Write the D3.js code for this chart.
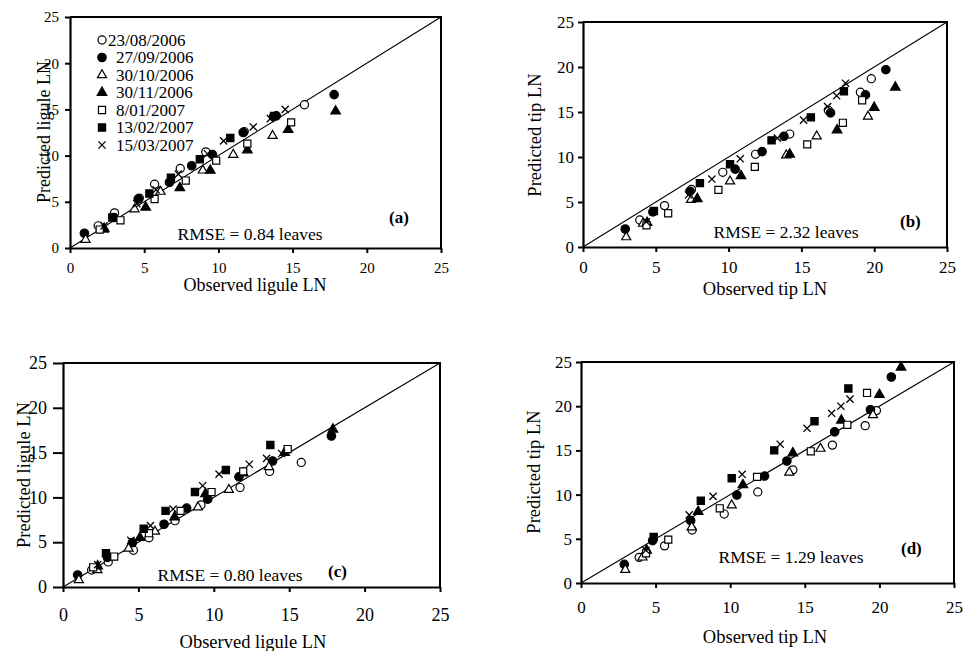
<!DOCTYPE html>
<html>
<head>
<meta charset="utf-8">
<script src="https://cdn.jsdelivr.net/npm/d3@7"></script>
<style>
  body { margin: 0; background: #fff; }
  text { font-family: "Liberation Serif", "Times New Roman", serif; fill: #000; }
</style>
</head>
<body>
<script>
var width = 963, height = 651;

// legend / series names, in drawing order
var dates = ["23/08/2006", "27/09/2006", "30/10/2006", "30/11/2006", "8/01/2007", "13/02/2007", "15/03/2007"];
var ticks = [0, 5, 10, 15, 20, 25];

// observed ligule leaf number, one list per date (panels a and c)
var obsLigule = [
  [1.9, 3.0, 4.67, 5.7, 7.43, 9.15, 11.74, 13.7, 15.8],
  [0.97, 2.95, 4.6, 6.7, 8.2, 9.6, 11.67, 13.9, 17.8],
  [1.05, 2.28, 4.35, 6.1, 8.95, 11.0, 13.65],
  [2.3, 5.1, 7.4, 9.45, 11.95, 14.7, 17.9],
  [2.0, 3.4, 5.7, 7.8, 9.85, 11.95, 14.9],
  [2.85, 5.35, 6.8, 8.75, 10.8, 13.75],
  [2.3, 4.5, 5.8, 7.3, 9.26, 10.35, 12.35, 13.5, 14.5]
];
// predicted ligule LN, panel (a)
var predLiguleA = [
  [2.4, 3.8, 5.4, 6.9, 8.6, 10.4, 12.6, 14.2, 15.5],
  [1.6, 3.3, 5.3, 7.1, 8.9, 10.1, 12.5, 14.3, 16.6],
  [0.9, 2.0, 4.2, 6.1, 8.4, 10.1, 12.15],
  [2.1, 4.4, 6.5, 8.4, 10.6, 12.8, 14.8],
  [2.0, 3.0, 5.3, 7.3, 9.45, 11.3, 13.6],
  [3.3, 5.9, 7.6, 9.6, 11.9, 14.3],
  [2.4, 4.8, 6.3, 8.0, 10.2, 11.6, 13.1, 14.0, 15.0]
];
// predicted ligule LN, panel (c)
var predLiguleC = [
  [1.9, 2.8, 4.1, 5.5, 7.4, 9.15, 11.1, 12.9, 13.9],
  [1.34, 3.3, 4.95, 7.0, 8.8, 9.8, 12.3, 14.06, 16.85],
  [0.78, 1.9, 4.3, 6.2, 8.9, 10.85, 13.4],
  [2.34, 5.5, 7.8, 10.4, 12.7, 15.0, 17.6],
  [2.2, 3.4, 6.0, 8.5, 10.6, 12.9, 15.4],
  [3.76, 6.5, 8.5, 10.6, 13.05, 15.85],
  [2.5, 5.2, 6.85, 8.7, 11.3, 12.6, 13.7, 14.35, 14.9]
];
// observed tip leaf number (panels b and d)
var obsTip = [
  [3.9, 5.6, 7.45, 9.6, 11.85, 14.2, 16.85, 19.05, 19.8],
  [2.9, 4.8, 7.35, 10.45, 12.3, 13.8, 17.0, 19.4, 20.8],
  [2.97, 4.12, 7.42, 10.1, 13.96, 16.05, 19.57],
  [4.4, 7.85, 10.85, 14.2, 17.45, 20.0, 21.45],
  [4.36, 5.85, 9.3, 11.8, 15.4, 17.85, 19.17],
  [4.87, 8.03, 10.1, 12.95, 15.65, 17.92],
  [4.35, 7.25, 8.85, 10.8, 13.35, 15.15, 16.8, 17.42, 18.03]
];
// predicted tip LN, panel (b)
var predTipB = [
  [3.0, 4.6, 6.4, 8.3, 10.3, 12.55, 15.2, 17.2, 18.7],
  [2.0, 3.9, 6.2, 8.65, 10.6, 12.3, 14.9, 16.9, 19.7],
  [1.1, 2.6, 5.25, 7.3, 10.2, 12.3, 14.5],
  [2.7, 5.35, 7.9, 10.3, 13.0, 15.5, 17.75],
  [2.4, 3.75, 6.35, 8.9, 11.4, 13.8, 16.3],
  [4.0, 7.1, 9.2, 11.85, 14.4, 17.3],
  [2.8, 5.8, 7.55, 9.8, 12.1, 14.1, 15.6, 16.8, 18.2]
];
// predicted tip LN, panel (d)
var predTipD = [
  [2.9, 4.2, 6.0, 7.8, 10.3, 12.8, 15.6, 17.8, 19.5],
  [2.1, 4.8, 7.05, 9.95, 12.1, 13.8, 17.1, 19.6, 23.3],
  [1.5, 2.9, 6.3, 8.8, 12.5, 15.2, 19.0],
  [3.7, 8.07, 11.1, 14.7, 18.4, 21.3, 24.4],
  [3.35, 4.9, 8.45, 12.0, 14.9, 17.9, 21.5],
  [5.2, 9.3, 11.85, 15.0, 18.3, 22.0],
  [3.7, 7.7, 9.8, 12.3, 15.7, 17.5, 19.2, 20.0, 20.8]
];

var rmseText = ["RMSE = 0.84 leaves", "RMSE = 2.32 leaves", "RMSE = 0.80 leaves", "RMSE = 1.29 leaves"];
var panelTags = ["(a)", "(b)", "(c)", "(d)"];

// layout of the four panels
var panels = [
  { left: 70, right: 441, top: 17, bottom: 248, obs: obsLigule, pred: predLiguleA,
    xTitle: "Observed ligule LN", yTitle: "Predicted ligule LN",
    tickFont: 15, titleFont: 18, yTick: 5, tickPadX: 9, tickPadY: 6,
    xTitlePos: [255, 291], yTitlePos: [50, 132], rmsePos: [250, 240], tagPos: [389, 223] },
  { left: 583, right: 947, top: 22, bottom: 247, obs: obsTip, pred: predTipB,
    xTitle: "Observed tip LN", yTitle: "Predicted tip LN",
    tickFont: 17, titleFont: 18.5, yTick: 5, tickPadX: 9, tickPadY: 4,
    xTitlePos: [765, 295], yTitlePos: [541, 135], rmsePos: [786, 238], tagPos: [900, 227] },
  { left: 63, right: 440, top: 363, bottom: 587, obs: obsLigule, pred: predLiguleC,
    xTitle: "Observed ligule LN", yTitle: "Predicted ligule LN",
    tickFont: 18, titleFont: 18.5, yTick: 10, tickPadX: 16, tickPadY: 6,
    xTitlePos: [253, 648], yTitlePos: [30, 475], rmsePos: [230, 581], tagPos: [328, 577] },
  { left: 581, right: 954, top: 362, bottom: 583, obs: obsTip, pred: predTipD,
    xTitle: "Observed tip LN", yTitle: "Predicted tip LN",
    tickFont: 17, titleFont: 18.5, yTick: 5, tickPadX: 13, tickPadY: 4,
    xTitlePos: [765, 643], yTitlePos: [540, 472], rmsePos: [791, 563], tagPos: [901, 554] }
];

var svg = d3.select("body").append("svg")
    .attr("width", width)
    .attr("height", height);

// marker shapes for the seven dates
var markerStyle = [
  { type: d3.symbolCircle, size: 52, fill: "#fff" },
  { type: d3.symbolCircle, size: 56, fill: "#000" },
  { type: d3.symbolTriangle, size: 36, fill: "#fff" },
  { type: d3.symbolTriangle, size: 40, fill: "#000" },
  { type: d3.symbolSquare, size: 50, fill: "#fff" },
  { type: d3.symbolSquare, size: 52, fill: "#000" },
  { type: "times", size: 3.6, fill: "none" }
];

function drawMarker(g, i, x, y) {
  var m = markerStyle[i];
  if (m.type === "times") {
    var r = m.size;
    g.append("path")
      .attr("d", "M" + (x - r) + "," + (y - r) + "L" + (x + r) + "," + (y + r) +
                 "M" + (x - r) + "," + (y + r) + "L" + (x + r) + "," + (y - r))
      .attr("stroke", "#000").attr("stroke-width", 1.3).attr("fill", "none");
  } else {
    g.append("path")
      .attr("d", d3.symbol().type(m.type).size(m.size)())
      .attr("transform", "translate(" + x + "," + y + ")")
      .attr("fill", m.fill)
      .attr("stroke", "#000")
      .attr("stroke-width", 1.2);
  }
}

panels.forEach(function(p, k) {
  var g = svg.append("g");
  var x = d3.scaleLinear().domain([0, 25]).range([p.left, p.right]);
  var y = d3.scaleLinear().domain([0, 25]).range([p.bottom, p.top]);

  // 1:1 line
  g.append("line")
    .attr("x1", x(0)).attr("y1", y(0))
    .attr("x2", x(25)).attr("y2", y(25))
    .attr("stroke", "#000").attr("stroke-width", 1.1);

  // frame top and right
  g.append("path")
    .attr("d", "M" + p.left + "," + p.top + "H" + p.right + "V" + p.bottom)
    .attr("fill", "none").attr("stroke", "#000").attr("stroke-width", 2);

  var xAxis = g.append("g")
    .attr("transform", "translate(0," + p.bottom + ")")
    .call(d3.axisBottom(x).tickValues(ticks).tickSize(5).tickSizeOuter(0).tickPadding(p.tickPadX));
  var yAxis = g.append("g")
    .attr("transform", "translate(" + p.left + ",0)")
    .call(d3.axisLeft(y).tickValues(ticks).tickSize(p.yTick).tickSizeOuter(0).tickPadding(p.tickPadY));

  [xAxis, yAxis].forEach(function(a) {
    a.select(".domain").attr("stroke-width", 2.2);
    a.selectAll(".tick line").attr("stroke-width", 2);
    a.selectAll(".tick text")
      .style("font-family", "'Liberation Serif', 'Times New Roman', serif")
      .style("font-size", p.tickFont + "px")
      .attr("fill", "#000");
  });

  // axis titles
  g.append("text")
    .attr("x", p.xTitlePos[0]).attr("y", p.xTitlePos[1])
    .attr("text-anchor", "middle")
    .style("font-size", p.titleFont + "px")
    .text(p.xTitle);
  g.append("text")
    .attr("transform", "translate(" + p.yTitlePos[0] + "," + p.yTitlePos[1] + ") rotate(-90)")
    .attr("text-anchor", "middle")
    .style("font-size", p.titleFont + "px")
    .text(p.yTitle);

  // points
  var pts = g.append("g");
  p.obs.forEach(function(xs, i) {
    xs.forEach(function(v, j) {
      drawMarker(pts, i, x(v), y(p.pred[i][j]));
    });
  });

  g.append("text")
    .attr("x", p.rmsePos[0]).attr("y", p.rmsePos[1])
    .attr("text-anchor", "middle")
    .style("font-size", "17.5px")
    .text(rmseText[k]);

  g.append("text")
    .attr("x", p.tagPos[0]).attr("y", p.tagPos[1])
    .style("font-size", "17px")
    .style("font-weight", "bold")
    .text(panelTags[k]);
});

// legend inside panel (a)
var legend = svg.append("g");
dates.forEach(function(d, i) {
  var ly = 40 + i * 17.5;
  drawMarker(legend, i, 102, ly);
  legend.append("text")
    .attr("x", i === 0 ? 108 : 116)
    .attr("y", ly + 5.5)
    .style("font-size", "17px")
    .text(d);
});
</script>
</body>
</html>
